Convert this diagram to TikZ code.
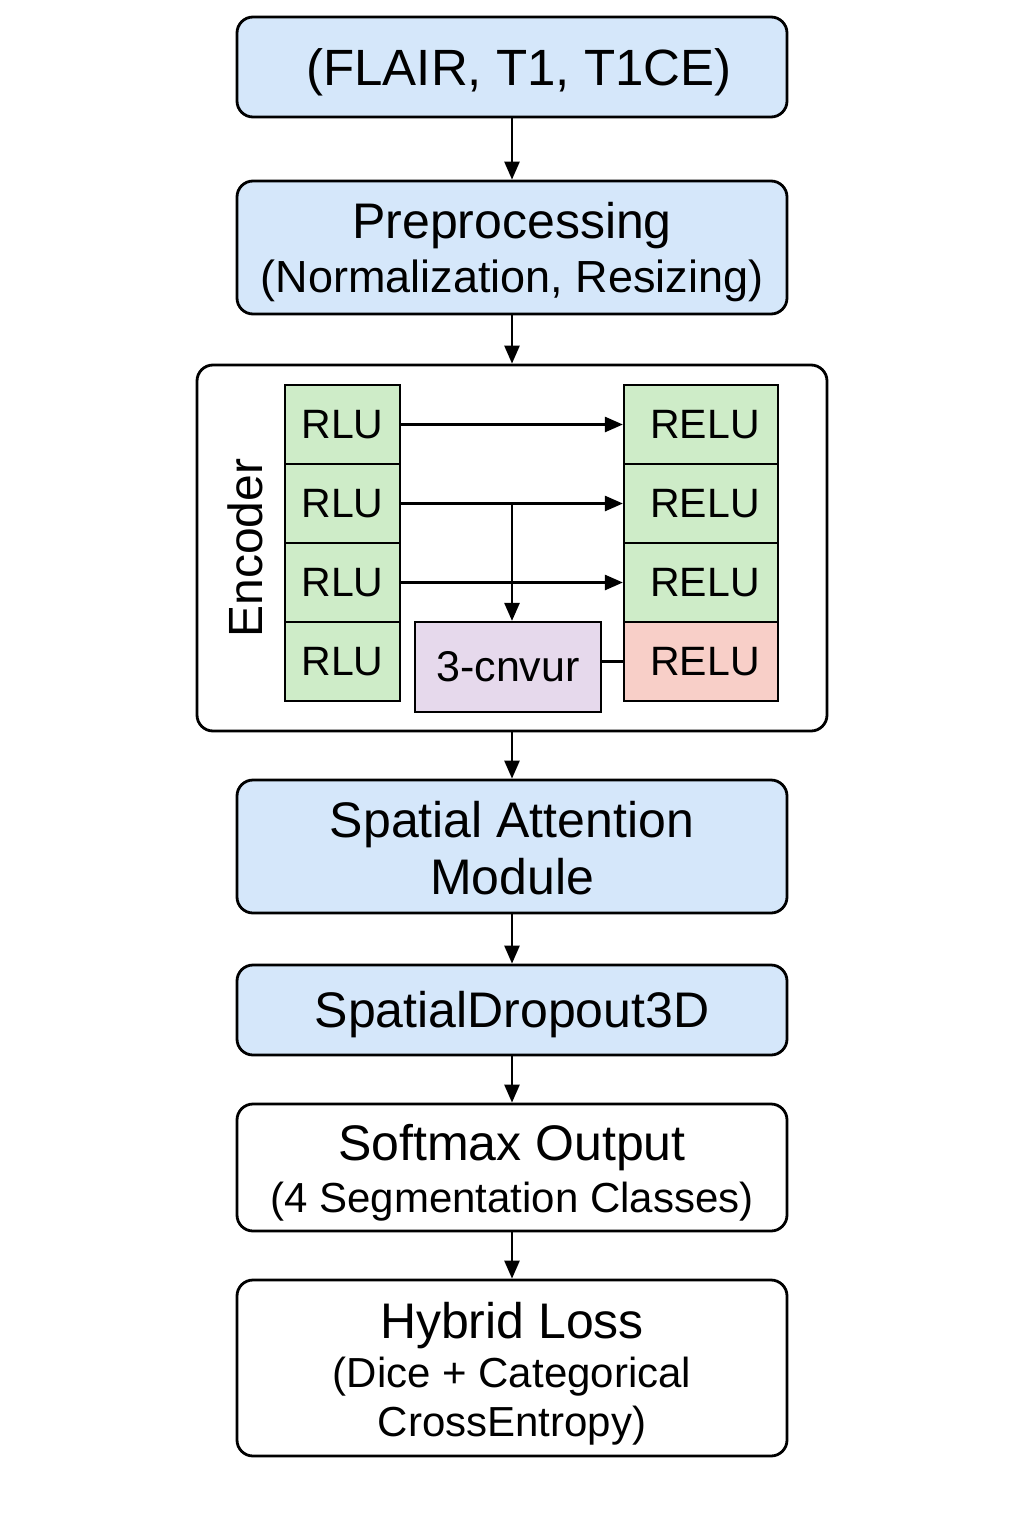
\documentclass[tikz,border=0pt]{standalone}
\usepackage{fontspec}
\setmainfont{Liberation Sans}
\usetikzlibrary{arrows.meta,calc}
\definecolor{bluefill}{RGB}{213,231,250}
\definecolor{greenfill}{RGB}{206,236,200}
\definecolor{pinkfill}{RGB}{248,207,200}
\definecolor{lavfill}{RGB}{230,217,236}
\begin{document}
\begin{tikzpicture}[x=1pt,y=-1pt,
  bigbox/.style={draw, line width=2.8pt, rounded corners=16pt, minimum width=550pt, inner sep=0pt},
  bluebox/.style={bigbox, fill=bluefill},
  boxtext/.style={align=center, inner sep=0pt},
  cellbox/.style={draw, line width=2.2pt, minimum width=115pt, minimum height=79pt, fill=greenfill, inner sep=0pt, font=\fontsize{41}{48}\selectfont},
  relubox/.style={cellbox, minimum width=154pt},
  arr/.style={line width=2.6pt, -{Triangle[length=18pt,width=15pt]}},
  plainline/.style={line width=2.6pt}
]
\useasboundingbox (0,0) rectangle (1024,1536);

% main boxes
\node[bluebox, minimum height=100pt] (inp) at (512,67) {};
\node[boxtext, font=\fontsize{51}{58}\selectfont] (inpt) at ([xshift=7pt,yshift=-5pt]inp.center) {(FLAIR, T1, T1CE)};

\node[bluebox, minimum height=133pt] (pre) at (512,247.5) {};
\node[boxtext, font=\fontsize{50}{54}\selectfont] (pret) at ([yshift=-5pt]pre.center)
  {Preprocessing\\\fontsize{45}{54}\selectfont (Normalization, Resizing)};

\node[draw, line width=2.8pt, rounded corners=16pt, minimum width=630pt, minimum height=366pt, inner sep=0pt] (enc) at (512,548) {};

\node[bluebox, minimum height=133pt] (sam) at (512,846.5) {};
\node[boxtext, font=\fontsize{50}{57}\selectfont] (samt) at ([yshift=-2pt]sam.center)
  {Spatial Attention\\Module};

\node[bluebox, minimum height=90pt] (sd) at (512,1010) {};
\node[boxtext, font=\fontsize{50}{57}\selectfont] (sdt) at ([yshift=-5pt]sd.center) {SpatialDropout3D};

\node[bigbox, minimum height=127pt] (soft) at (512,1167.5) {};
\node[boxtext, font=\fontsize{50}{52}\selectfont] (softt) at ([yshift=-5pt]soft.center)
  {Softmax Output\\\fontsize{42}{52}\selectfont (4 Segmentation Classes)};

\node[bigbox, minimum height=176pt] (hyb) at (512,1368) {};
\node[boxtext, font=\fontsize{42}{49}\selectfont] (hybt) at ([yshift=-6pt]hyb.center)
  {\fontsize{50}{49}\selectfont Hybrid Loss\\(Dice + Categorical\\CrossEntropy)};

% encoder label
\node[rotate=90, font=\fontsize{48}{56}\selectfont, inner sep=0pt] (enclabel) at (245,548) {Encoder};

% RLU column
\node[cellbox] (r1) at (342.5,424.5) {RLU};
\node[cellbox] (r2) at (342.5,503.5) {RLU};
\node[cellbox] (r3) at (342.5,582.5) {RLU};
\node[cellbox] (r4) at (342.5,661.5) {RLU};

% RELU column
\node[relubox] (e1) at (701,424.5) {\hspace*{8pt}RELU};
\node[relubox] (e2) at (701,503.5) {\hspace*{8pt}RELU};
\node[relubox] (e3) at (701,582.5) {\hspace*{8pt}RELU};
\node[relubox, fill=pinkfill] (e4) at (701,661.5) {\hspace*{8pt}RELU};

% conv box
\node[draw, line width=2.2pt, fill=lavfill, minimum width=186pt, minimum height=90pt, inner sep=0pt, font=\fontsize{43}{50}\selectfont] (cnv) at (508,667) {3-cnvur};

% encoder internal connectors
\draw[arr] (r1.east) -- (e1.west);
\draw[arr] (r2.east) -- (e2.west);
\draw[arr] (r3.east) -- (e3.west);
\coordinate (j) at ($(r2.east)!0.5!(e2.west)$);
\draw[arr] (j) -- (j |- cnv.north);
\draw[plainline] (cnv.east |- e4.west) -- (e4.west);

% main flow
\draw[arr] (inp.south) -- (pre.north);
\draw[arr] (pre.south) -- (enc.north);
\draw[arr] (enc.south) -- (sam.north);
\draw[arr] (sam.south) -- (sd.north);
\draw[arr] (sd.south) -- (soft.north);
\draw[arr] (soft.south) -- (hyb.north);
\end{tikzpicture}
\end{document}
